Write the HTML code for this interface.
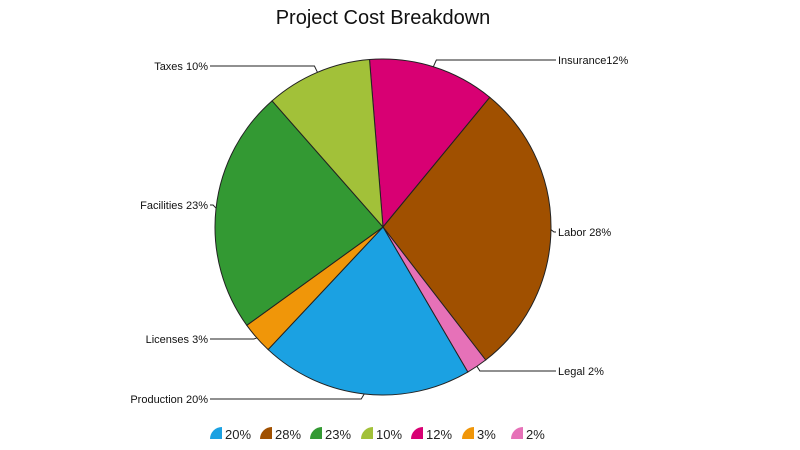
<!DOCTYPE html>
<html><head><meta charset="utf-8"><style>
body{margin:0;background:#fff;width:800px;height:450px;overflow:hidden}
svg{display:block;font-family:"Liberation Sans",sans-serif}
</style></head><body>
<svg id="chart" width="800" height="450">
<text x="383" y="24" text-anchor="middle" font-size="20" fill="#111">Project Cost Breakdown</text>
<g id="slices"></g>
<g id="labels"></g>
<g id="legend"></g>
</svg>
<script>
const categories = ["Insurance","Labor","Legal","Production","Licenses","Facilities","Taxes"];
const values = [12,28,2,20,3,23,10];
const colors = ["#d80073","#a05000","#e671b8","#1ba1e2","#f09609","#339933","#a2c139"];
const labelY = [60,232,371,399,339,205,66];
const legendOrder = [3,1,5,6,0,4,2];
const legendX = [210,260,310,361,411,462,511];
const startAngle = -4.6;
const cx=383, cy=227, R=168;
const NS="http://www.w3.org/2000/svg";
const total = values.reduce((a,b)=>a+b,0);
function pt(a,r){const t=a*Math.PI/180;return [cx+r*Math.sin(t), cy-r*Math.cos(t)];}
const sg=document.getElementById('slices'), lg=document.getElementById('labels'), leg=document.getElementById('legend');
let a=startAngle;
values.forEach((v,i)=>{
  const sweep=v/total*360, a2=a+sweep;
  const p1=pt(a,R), p2=pt(a2,R);
  const p=document.createElementNS(NS,'path');
  p.setAttribute('d',`M${cx},${cy}L${p1[0]},${p1[1]}A${R},${R} 0 ${sweep>180?1:0} 1 ${p2[0]},${p2[1]}Z`);
  p.setAttribute('fill',colors[i]);p.setAttribute('stroke','#222');p.setAttribute('stroke-width','1');
  
  
  sg.appendChild(p);
  const m=pt(a+sweep/2,R);
  const right=m[0]>cx;
  const ex=m[0]+(right?3:-3), y=labelY[i];
  const lx=right?556:210;
  const l=document.createElementNS(NS,'polyline');
  l.setAttribute('points',`${m[0]},${m[1]} ${ex},${y} ${lx},${y}`);
  l.setAttribute('fill','none');l.setAttribute('stroke','#222');l.setAttribute('stroke-width','1');
  
  
  lg.appendChild(l);
  const t=document.createElementNS(NS,'text');
  t.setAttribute('x',right?lx+2:lx-2);t.setAttribute('y',y+4);
  t.setAttribute('font-size','11');t.setAttribute('fill','#111');
  t.setAttribute('text-anchor',right?'start':'end');
  t.textContent=categories[i]+(categories[i]==="Insurance"?"":" ")+v+"%";
  
  
  lg.appendChild(t);
  a=a2;
});
legendOrder.forEach((idx,k)=>{
  const x=legendX[k], y=439;
  const s=document.createElementNS(NS,'path');
  s.setAttribute('d',`M${x},${y}A12,12 0 0 1 ${x+12},${y-12}L${x+12},${y}Z`);
  s.setAttribute('fill',colors[idx]);
  
  
  leg.appendChild(s);
  const t=document.createElementNS(NS,'text');
  t.setAttribute('x',x+15);t.setAttribute('y',y);
  t.setAttribute('font-size','13');t.setAttribute('fill','#222');
  t.textContent=values[idx]+"%";
  
  
  leg.appendChild(t);
});
</script>
</body></html>
